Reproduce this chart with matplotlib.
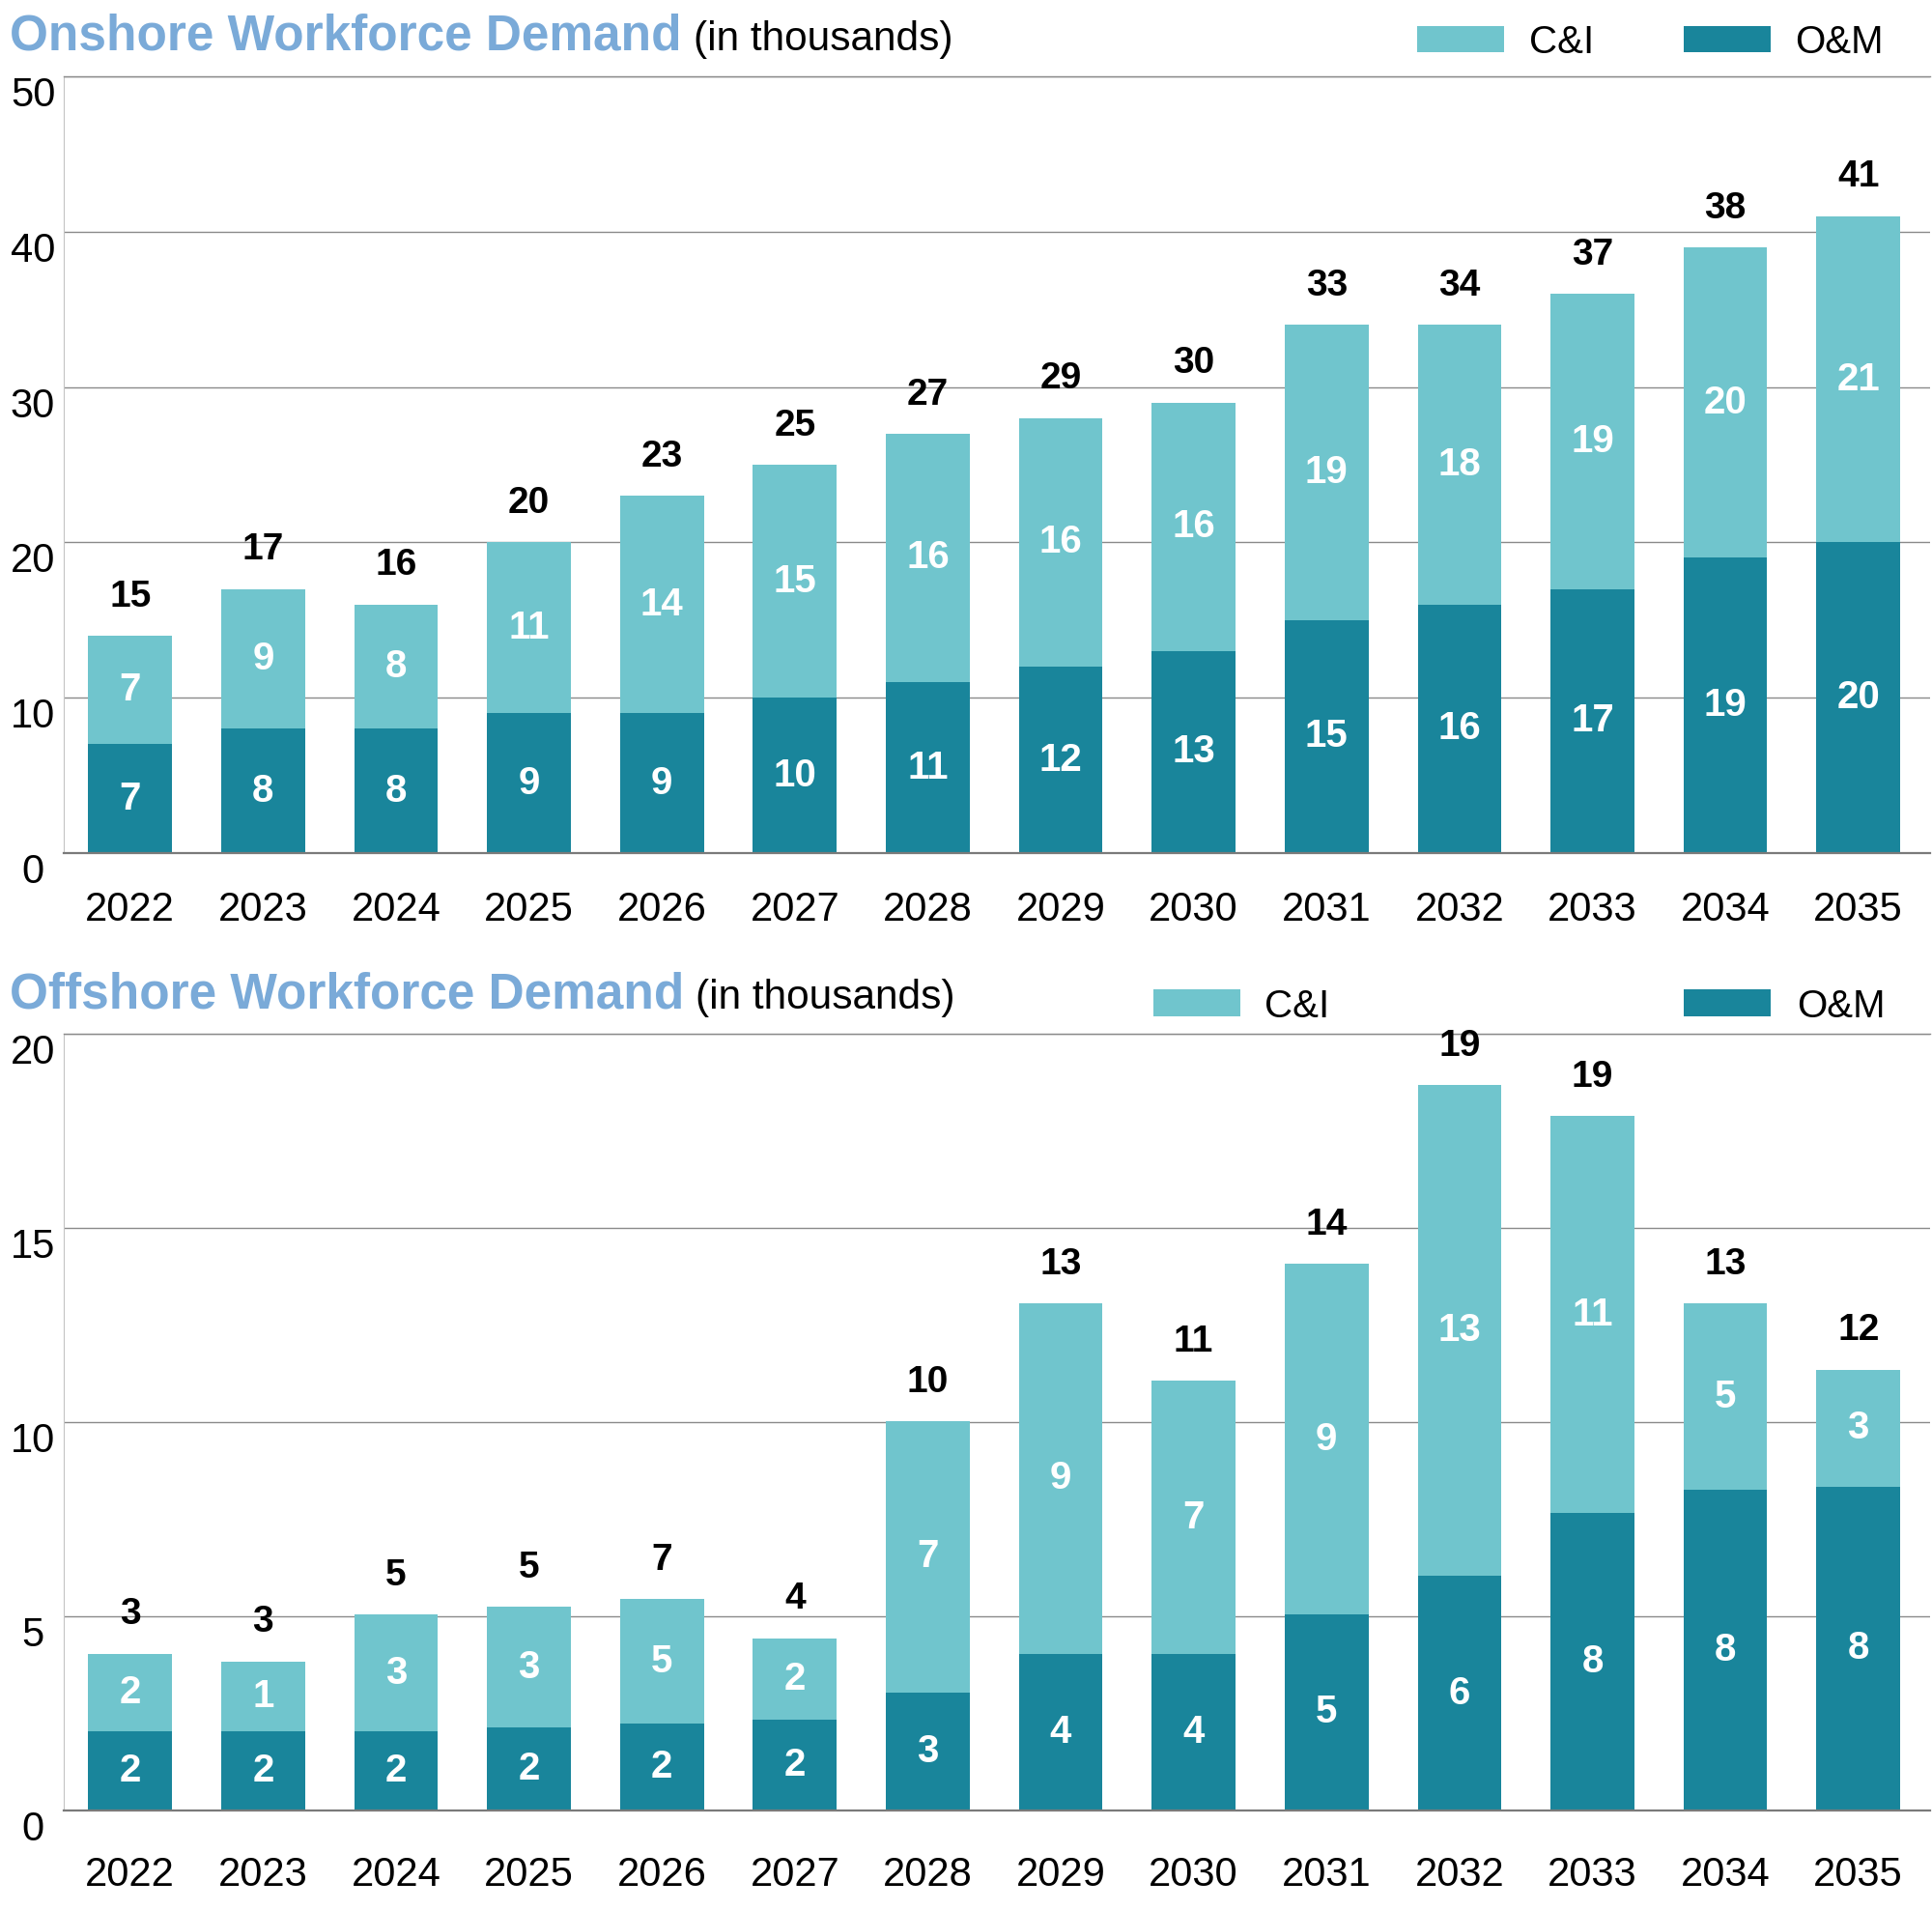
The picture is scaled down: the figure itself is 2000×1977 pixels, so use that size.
import matplotlib.pyplot as plt
from matplotlib.patches import Rectangle
import numpy as np

plt.rcParams['font.family'] = ['Liberation Sans', 'DejaVu Sans']

# Data (in thousands)
years = ['2022', '2023', '2024', '2025', '2026', '2027', '2028',
         '2029', '2030', '2031', '2032', '2033', '2034', '2035']

onshore_om = [7, 8, 8, 9, 9, 10, 11, 12, 13, 15, 16, 17, 19, 20]
onshore_ci = [7, 9, 8, 11, 14, 15, 16, 16, 16, 19, 18, 19, 20, 21]
onshore_om_labels = [7, 8, 8, 9, 9, 10, 11, 12, 13, 15, 16, 17, 19, 20]
onshore_ci_labels = [7, 9, 8, 11, 14, 15, 16, 16, 16, 19, 18, 19, 20, 21]
onshore_total_labels = [15, 17, 16, 20, 23, 25, 27, 29, 30, 33, 34, 37, 38, 41]

offshore_om = [2.04, 2.04, 2.04, 2.13, 2.23, 2.33, 3.03, 4.03, 4.03, 5.05, 6.04, 7.65, 8.25, 8.34]
offshore_ci = [2.0, 1.8, 3.0, 3.11, 3.21, 2.11, 7.0, 9.03, 7.03, 9.02, 12.64, 10.23, 4.81, 3.01]
offshore_om_labels = [2, 2, 2, 2, 2, 2, 3, 4, 4, 5, 6, 8, 8, 8]
offshore_ci_labels = [2, 1, 3, 3, 5, 2, 7, 9, 7, 9, 13, 11, 5, 3]
offshore_total_labels = [3, 3, 5, 5, 7, 4, 10, 13, 11, 14, 19, 19, 13, 12]

onshore_ticks = [0, 10, 20, 30, 40, 50]
offshore_ticks = [0, 5, 10, 15, 20]

CI_COLOR = '#70c5cd'
OM_COLOR = '#19859b'
TITLE_BLUE = '#7aaad8'
GRID_COLOR = '#8a8a8a'

W, H = 2000, 1977
fig = plt.figure(figsize=(W / 100, H / 100), dpi=100)


def fx(px):
    return px / W


def fy(py):
    return 1 - py / H


def draw_panel(ax, om, ci, om_labels, ci_labels, total_labels, ticks, xpad):
    x = np.arange(len(years))
    om = np.array(om)
    ci = np.array(ci)
    ax.bar(x, om, width=0.63, color=OM_COLOR, zorder=2)
    ax.bar(x, ci, bottom=om, width=0.63, color=CI_COLOR, zorder=2)

    for i in range(len(x)):
        ax.text(x[i], om[i] / 2, str(om_labels[i]), ha='center', va='center',
                color='white', fontweight='bold', fontsize=29, zorder=3)
        ax.text(x[i], om[i] + ci[i] / 2, str(ci_labels[i]), ha='center', va='center',
                color='white', fontweight='bold', fontsize=29, zorder=3)
        ax.annotate(str(total_labels[i]), (x[i], om[i] + ci[i]), xytext=(0, 29),
                    textcoords='offset points', ha='center', va='center',
                    color='black', fontweight='bold', fontsize=28)

    ax.set_xlim(-0.5, 13.54)
    ax.set_ylim(0, ticks[-1])
    ax.set_yticks(ticks, [str(t) for t in ticks], ha='center', va='top', fontsize=30)
    ax.tick_params(axis='y', length=0, pad=23)
    ax.set_xticks(x, years, fontsize=30)
    ax.tick_params(axis='x', length=0, pad=xpad)

    ax.grid(axis='y', color=GRID_COLOR, lw=1.0)
    ax.set_axisbelow(True)
    ax.spines['right'].set_visible(False)
    ax.spines['top'].set_color(GRID_COLOR)
    ax.spines['top'].set_linewidth(1.0)
    ax.spines['left'].set_color('#c4c4c4')
    ax.spines['left'].set_linewidth(0.8)
    ax.spines['bottom'].set_color('#7a7a7a')
    ax.spines['bottom'].set_linewidth(1.6)


def draw_title(text, baseline):
    renderer = fig.canvas.get_renderer()
    t = fig.text(fx(10), fy(baseline), text, fontsize=37, fontweight='bold',
                 color=TITLE_BLUE, va='baseline', ha='left')
    ext = t.get_window_extent(renderer=renderer)
    fig.text(fx(ext.x1 + 12), fy(baseline), '(in thousands)', fontsize=30.5,
             color='black', va='baseline', ha='left')


def draw_legend(entries, y_top, y_bottom):
    # entries: (label, color, patch_x0, text_x0)
    for label, color, x0, tx in entries:
        fig.add_artist(Rectangle((fx(x0), fy(y_bottom)), 90 / W, (y_bottom - y_top) / H,
                                 transform=fig.transFigure, facecolor=color,
                                 edgecolor='none'))
        fig.text(fx(tx), fy(y_bottom + 1), label, fontsize=29, va='baseline', ha='left')


# Onshore panel
ax_on = fig.add_axes([fx(66), fy(883), fx(1998) - fx(66), (883 - 79) / H])
draw_panel(ax_on, onshore_om, onshore_ci, onshore_om_labels, onshore_ci_labels,
           onshore_total_labels, onshore_ticks, 28)

# Offshore panel
ax_off = fig.add_axes([fx(66), fy(1874), fx(1998) - fx(66), (1874 - 1070) / H])
draw_panel(ax_off, offshore_om, offshore_ci, offshore_om_labels, offshore_ci_labels,
           offshore_total_labels, offshore_ticks, 34)

draw_title('Onshore Workforce Demand', 52)
draw_title('Offshore Workforce Demand', 1044)

draw_legend([('C&I', CI_COLOR, 1467, 1583), ('O&M', OM_COLOR, 1743, 1858)], 27, 54)
draw_legend([('C&I', CI_COLOR, 1194, 1309), ('O&M', OM_COLOR, 1743, 1860)], 1024, 1052)

plt.savefig('out.png', dpi=100)
